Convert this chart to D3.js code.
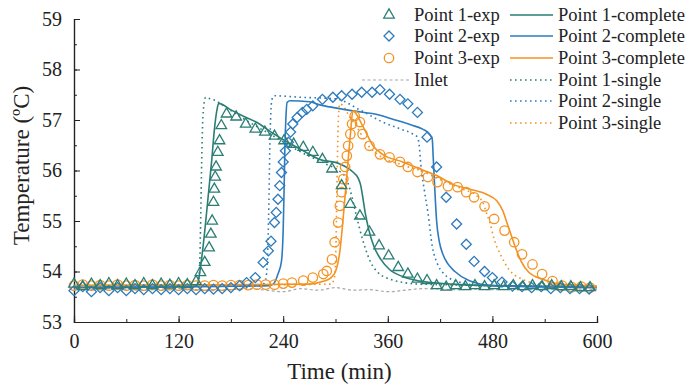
<!DOCTYPE html>
<html>
<head>
<meta charset="utf-8">
<script src="https://cdn.jsdelivr.net/npm/d3@7"></script>
<style>
    body { margin: 0; background: #fff; }
    text { font-family: "Liberation Serif", "Times New Roman", serif; fill: #222; }
</style>
</head>
<body>
<div id="chart"></div>
<script>

// ---- data: [time (min), temperature (°C)] ----
const p1Exp = [[0,53.75],[10,53.7],[20,53.75],[30,53.72],[40,53.76],[50,53.72],[60,53.75],[70,53.72],[80,53.76],[90,53.72],[100,53.75],[110,53.73],[120,53.76],[130,53.74],[140,53.8],
    [145,53.98],[150,54.18],[155,54.47],[157,54.74],[158.5,55.0],[160,55.37],[161,55.63],[162,55.87],[163,56.07],[165,56.36],[167,56.59],[169,56.89],[175,57.12],
    [186,57.06],[197,56.92],[208,56.82],[219,56.76],[230,56.68],[241,56.59],[252,56.52],[263,56.46],[274,56.36],[285,56.22],[296,56.03],[307,55.7],[317,55.33],[328,55.1],
    [339,54.78],[350,54.51],[361,54.31],[372,54.08],[383,53.95],[394,53.85],[405,53.82],[416,53.72],[427,53.69],[438,53.72],[449,53.7],[460,53.72],[471,53.7],[482,53.72],
    [493,53.7],[504,53.72],[515,53.7],[526,53.72],[537,53.7],[548,53.72],[559,53.7],[570,53.7],[581,53.68],[592,53.68]];

const p2Exp = [[0,53.62],[10,53.7],[20,53.6],[30,53.68],[40,53.62],[50,53.68],[60,53.62],[70,53.66],[80,53.64],[90,53.66],[100,53.64],[110,53.66],[120,53.64],[130,53.66],
    [140,53.64],[150,53.66],[160,53.65],[170,53.66],[180,53.68],[190,53.72],[198,53.78],[208,53.88],[217,54.18],[223,54.41],[226,54.6],[230,54.97],[232,55.17],[234,55.43],
    [236,55.7],[238,55.96],[240,56.17],[242.5,56.39],[246,56.56],[248.5,56.76],[251,56.92],[256,57.05],[262,57.15],[267,57.21],[274,57.28],[285,57.41],[297,57.45],[307,57.48],
    [319,57.51],[330,57.55],[342,57.55],[351,57.6],[362,57.51],[374,57.41],[383,57.32],[394,57.15],[405,56.66],[416,56.07],[427,55.47],[439,54.94],[450,54.54],[459,54.2],
    [471,54.0],[480,53.88],[491,53.79],[503,53.71],[514,53.7],[525,53.68],[536,53.7],[547,53.66],[558,53.68],[569,53.66],[580,53.66],[591,53.65]];

const p3Exp = [[0,53.72],[10,53.74],[20,53.72],[30,53.73],[40,53.72],[50,53.74],[60,53.72],[70,53.73],[80,53.72],[90,53.74],[100,53.72],[110,53.73],[120,53.72],[130,53.73],
    [140,53.72],[150,53.72],[160,53.73],[170,53.72],[180,53.73],[190,53.73],[200,53.73],[210,53.74],[220,53.74],[230,53.74],[240,53.76],[250,53.78],[263,53.82],[274,53.88],
    [286,53.95],[290,54.01],[296,54.24],[299,54.58],[303,54.97],[305,55.3],[307,55.57],[309,55.83],[311,56.07],[313,56.29],[314.5,56.49],[317,56.72],[319,56.92],[322,57.08],
    [328,56.96],[331,56.72],[339,56.49],[351,56.32],[362,56.26],[374,56.17],[383,56.07],[394,55.97],[406,55.87],[417,55.77],[429,55.69],[440,55.67],[450,55.57],[459,55.47],
    [471,55.29],[482,55.04],[494,54.81],[505,54.58],[514,54.34],[526,54.14],[537,53.95],[549,53.81],[560,53.72],[571,53.69],[582,53.7],[592,53.68]];

const inlet = [[0,53.65],[20,53.64],[40,53.66],[60,53.65],[80,53.63],[100,53.65],[120,53.66],[140,53.64],[160,53.62],[180,53.64],[200,53.66],[220,53.63],[240,53.6],
    [260,53.66],[280,53.63],[300,53.68],[320,53.63],[340,53.64],[360,53.6],[380,53.63],[400,53.66],[420,53.65],[440,53.64],[460,53.65],[480,53.64],[500,53.65],
    [520,53.64],[540,53.65],[560,53.64],[580,53.65],[600,53.64]];

const p1Complete = [[0,53.72],[140,53.72],[143,53.85],[146,54.2],[150,54.8],[154,55.5],[158,56.2],[161,56.8],[164,57.2],[166,57.33],[180,57.2],[195,57.07],[210,56.95],
    [227,56.75],[244,56.57],[262,56.4],[282,56.22],[305,56.13],[320,55.97],[326,55.85],[329,55.7],[331,55.5],[334,55.17],[338,54.84],[344,54.5],[352,54.24],[362,54.04],
    [377,53.9],[397,53.81],[434,53.75],[480,53.72],[600,53.7]];

const p2Complete = [[0,53.68],[225,53.72],[230,53.78],[234,53.95],[238,54.2],[240,54.84],[241,55.6],[242,56.49],[243,57.0],[244.5,57.35],[248,57.38],[270,57.36],
    [282,57.3],[300,57.24],[320,57.18],[350,57.1],[365,57.02],[387,56.9],[400,56.82],[408,56.72],[411,56.62],[412,56.3],[414,55.6],[416,55.0],[419,54.6],[423,54.35],
    [429,54.15],[437,54.0],[453,53.82],[480,53.72],[600,53.68]];

const p3Complete = [[0,53.72],[270,53.75],[285,53.8],[295,53.88],[300,54.0],[305,54.4],[308,54.9],[311,55.5],[314,56.1],[317,56.7],[320,57.18],[331,56.89],[343,56.49],
    [354,56.32],[377,56.17],[397,56.03],[416,55.9],[434,55.73],[454,55.63],[473,55.53],[485,55.4],[492,55.2],[497,54.95],[502,54.7],[507,54.45],[513,54.2],[522,53.98],
    [537,53.85],[557,53.75],[586,53.72],[600,53.7]];

const p1Single = [[0,53.7],[140,53.72],[143,53.8],[144.5,54.3],[145.5,55.2],[146.5,56.2],[147.5,56.9],[149,57.3],[151,57.45],[156,57.42],[163,57.38],[170,57.3],
    [195,57.02],[227,56.7],[262,56.35],[290,56.12],[305,55.98],[312,55.85],[317,55.6],[324,55.1],[331,54.64],[343,54.1],[362,53.85],[397,53.75],[600,53.7]];

const p2Single = [[0,53.7],[215,53.72],[220,53.85],[222,54.3],[223.5,55.3],[224.5,56.3],[225.5,57.0],[227,57.4],[230,57.48],[260,57.45],[300,57.42],[328,57.2],
    [354,56.96],[375,56.82],[389,56.72],[394,56.66],[396,56.5],[398,56.1],[402,55.6],[406,55.17],[411,54.5],[417,54.15],[423,53.98],[442,53.79],[470,53.72],[600,53.7]];

const p3Single = [[0,53.72],[295,53.75],[299,53.9],[300.5,54.5],[301.5,55.5],[302.5,56.5],[303.5,57.1],[305,57.32],[310,57.25],[315,57.1],[325,56.85],[335,56.55],
    [350,56.3],[375,56.12],[400,55.98],[425,55.78],[446,55.63],[462,55.5],[469,55.37],[473,55.17],[477,54.97],[482,54.64],[490,54.31],[499,54.04],[514,53.85],
    [537,53.75],[600,53.7]];

const xTicks = [0, 120, 240, 360, 480, 600];
const yTicks = [53, 54, 55, 56, 57, 58, 59];

const teal = "#2a7e74", blue = "#2d7bbd", orange = "#f39323", grey = "#a8a8a8";


class TemperatureVis {

    constructor(_parentElement) {
        this.parentElement = _parentElement;
        this.initVis();
    }

    initVis() {
        let vis = this;

        vis.margin = { top: 19, right: 90, bottom: 66, left: 74 };
        vis.width = 687 - vis.margin.left - vis.margin.right;
        vis.height = 388 - vis.margin.top - vis.margin.bottom;

        vis.root = d3.select("#" + vis.parentElement).append("svg")
            .attr("width", 687)
            .attr("height", 388);

        vis.svg = vis.root.append("g")
            .attr("transform", "translate(" + vis.margin.left + "," + vis.margin.top + ")");

        vis.x = d3.scaleLinear().domain([0, 600]).range([0, vis.width]);
        vis.y = d3.scaleLinear().domain([53, 59]).range([vis.height, 0]);

        vis.line = d3.line()
            .x(d => vis.x(d[0]))
            .y(d => vis.y(d[1]))
            .curve(d3.curveMonotoneX);

        vis.drawAxes();
        vis.updateVis();
        vis.drawLegend();
    }

    drawAxes() {
        let vis = this;

        // minor ticks first (inward, short)
        let yAxisMinor = d3.axisLeft(vis.y).tickValues(d3.range(53, 59.01, 0.5))
            .tickSize(-3).tickFormat("");
        let xAxisMinor = d3.axisBottom(vis.x).tickValues(d3.range(0, 601, 60))
            .tickSize(-3).tickFormat("");

        vis.svg.append("g").attr("class", "y-minor").call(yAxisMinor);
        vis.svg.append("g").attr("class", "x-minor")
            .attr("transform", "translate(0," + vis.height + ")").call(xAxisMinor);

        let yAxis = d3.axisLeft(vis.y).tickValues(yTicks).tickFormat(d3.format("d"))
            .tickSize(-6).tickPadding(12);
        let xAxis = d3.axisBottom(vis.x).tickValues(xTicks).tickFormat(d3.format("d"))
            .tickSize(-6).tickPadding(12);

        vis.svg.append("g").attr("class", "y-axis").call(yAxis);
        vis.svg.append("g").attr("class", "x-axis")
            .attr("transform", "translate(0," + vis.height + ")").call(xAxis);

        vis.svg.selectAll(".domain").attr("stroke", "#222").attr("stroke-width", 1.2);
        vis.svg.selectAll(".tick line").attr("stroke", "#222").attr("stroke-width", 1);
        vis.svg.selectAll(".tick text")
            .style("font-family", '"Liberation Serif", serif')
            .style("font-size", "20px")
            .attr("fill", "#222");

        vis.svg.append("text")
            .attr("x", vis.width / 2 + 4)
            .attr("y", vis.height + 57)
            .attr("text-anchor", "middle")
            .style("font-size", "23px")
            .text("Time (min)");

        vis.svg.append("text")
            .attr("transform", "rotate(-90)")
            .attr("x", -vis.height / 2 + 5)
            .attr("y", -45)
            .attr("text-anchor", "middle")
            .style("font-size", "23px")
            .text("Temperature (ºC)");
    }

    updateVis() {
        let vis = this;

        let plot = vis.svg.append("g");

        plot.append("path").datum(inlet)
            .attr("d", vis.line).attr("fill", "none")
            .attr("stroke", grey).attr("stroke-width", 1.2).attr("stroke-dasharray", "3,2.5");

        // single-zone model (dotted)
        [[p1Single, teal], [p2Single, blue], [p3Single, orange]].forEach(([d, c]) => {
            plot.append("path").datum(d)
                .attr("d", vis.line).attr("fill", "none")
                .attr("stroke", c).attr("stroke-width", 1.6).attr("stroke-dasharray", "1.6,3.4");
        });

        // complete model (solid)
        [[p1Complete, teal], [p2Complete, blue], [p3Complete, orange]].forEach(([d, c]) => {
            plot.append("path").datum(d)
                .attr("d", vis.line).attr("fill", "none")
                .attr("stroke", c).attr("stroke-width", 1.6);
        });

        // measurements
        vis.drawSymbols(plot, p3Exp, d3.symbolCircle, 70, orange, 0);
        vis.drawSymbols(plot, p2Exp, d3.symbolSquare, 50, blue, 45);
        vis.drawSymbols(plot, p1Exp, d3.symbolTriangle, 48, teal, 0);
    }

    drawSymbols(g, data, type, size, color, rot) {
        let vis = this;
        g.selectAll(null).data(data).enter().append("path")
            .attr("d", d3.symbol().type(type).size(size))
            .attr("transform", d => "translate(" + vis.x(d[0]) + "," + vis.y(d[1]) + ") rotate(" + rot + ")")
            .attr("fill", "none")
            .attr("stroke", color)
            .attr("stroke-width", 1.3);
    }

    drawLegend() {
        let vis = this;
        let lg = vis.root.append("g").attr("class", "legend");
        let rowY = [15, 36, 58, 80, 101, 123];
        let fs = "18.5px";

        let expItems = [["Point 1-exp", d3.symbolTriangle, 48, teal, 0],
                        ["Point 2-exp", d3.symbolSquare, 50, blue, 45],
                        ["Point 3-exp", d3.symbolCircle, 70, orange, 0]];
        expItems.forEach((it, i) => {
            lg.append("path")
                .attr("d", d3.symbol().type(it[1]).size(it[2]))
                .attr("transform", "translate(389," + rowY[i] + ") rotate(" + it[4] + ")")
                .attr("fill", "none").attr("stroke", it[3]).attr("stroke-width", 1.3);
            lg.append("text").attr("x", 414).attr("y", rowY[i]).attr("dy", "0.35em")
                .style("font-size", fs).text(it[0]);
        });

        lg.append("line").attr("x1", 362).attr("x2", 410).attr("y1", rowY[3]).attr("y2", rowY[3])
            .attr("stroke", grey).attr("stroke-width", 1.2).attr("stroke-dasharray", "3,2.5");
        lg.append("text").attr("x", 414).attr("y", rowY[3]).attr("dy", "0.35em")
            .style("font-size", fs).text("Inlet");

        let modelItems = [["Point 1-complete", teal, null], ["Point 2-complete", blue, null], ["Point 3-complete", orange, null],
                          ["Point 1-single", teal, "1.6,3.4"], ["Point 2-single", blue, "1.6,3.4"], ["Point 3-single", orange, "1.6,3.4"]];
        modelItems.forEach((it, i) => {
            lg.append("line").attr("x1", 510).attr("x2", 553).attr("y1", rowY[i]).attr("y2", rowY[i])
                .attr("stroke", it[1]).attr("stroke-width", 1.6)
                .attr("stroke-dasharray", it[2]);
            lg.append("text").attr("x", 558).attr("y", rowY[i]).attr("dy", "0.35em")
                .style("font-size", fs).text(it[0]);
        });
    }
}

new TemperatureVis("chart");

</script>
</body>
</html>
